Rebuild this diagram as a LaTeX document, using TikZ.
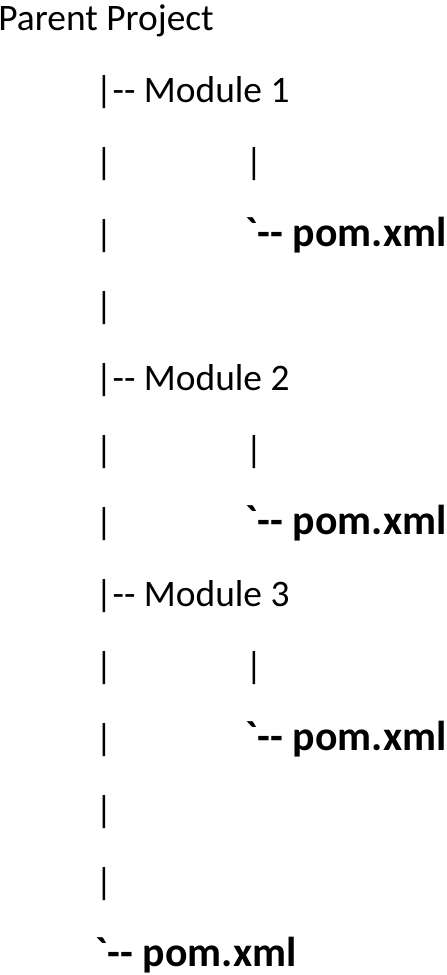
\documentclass[tikz,border=0pt]{standalone}
\usepackage{fontspec}
\newfontfamily\treefont{Carlito}
\begin{document}
\begin{tikzpicture}[x=0.5pt, y=-0.5pt, row/.style = {anchor=base west, inner sep=0pt, font=\treefont\fontsize{18.7}{22}\selectfont}, file/.style = {row, font=\treefont\bfseries\fontsize{20.9}{25}\selectfont}]
		\useasboundingbox (0,0) rectangle (446,975);
		
		\node[row] (root) at (-2,30) {Parent Project};
		
		\node[row] (m1) at (95,102) {|-{}- Module 1};
		\node[row] (b2) at (95,174) {|};
		\node[row] (s2) at (245,174) {|};
		\node[row] (b3) at (95,246) {|};
		\node[file] (p1) at (245,246) {`-{}- pom.xml};
		\node[row] (b4) at (95,318) {|};
		
		\node[row] (m2) at (95,390) {|-{}- Module 2};
		\node[row] (b6) at (95,462) {|};
		\node[row] (s6) at (245,462) {|};
		\node[row] (b7) at (95,534) {|};
		\node[file] (p2) at (245,534) {`-{}- pom.xml};
		
		\node[row] (m3) at (95,606) {|-{}- Module 3};
		\node[row] (b9) at (95,678) {|};
		\node[row] (s9) at (245,678) {|};
		\node[row] (b10) at (95,750) {|};
		\node[file] (p3) at (245,750) {`-{}- pom.xml};
		\node[row] (b11) at (95,822) {|};
		\node[row] (b12) at (95,894) {|};
		
		\node[file] (p0) at (95,966) {`-{}- pom.xml};
		
	\end{tikzpicture}
\end{document}
